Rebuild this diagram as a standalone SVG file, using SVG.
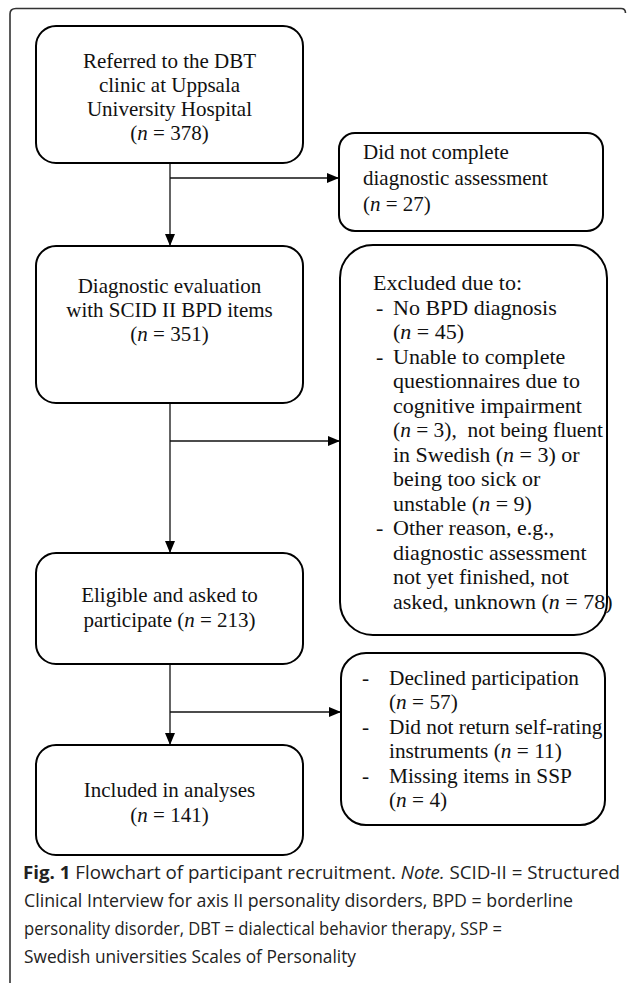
<svg xmlns="http://www.w3.org/2000/svg" width="627" height="983" viewBox="0 0 627 983">
<defs>
<style>
.box{fill:#fff;stroke:#000;stroke-width:2}
.t{font-family:"Liberation Serif","Times New Roman",serif;font-size:21px;fill:#111}
.t22{font-size:22px}
.t215{font-size:21.3px}
.c{text-anchor:middle}
.conn{fill:none;stroke:#111;stroke-width:1.3}
.cap{font-family:"Open Sans","Noto Sans",sans-serif;font-size:18.5px;fill:#222}
</style>
<marker id="ah" viewBox="0 0 12 10" refX="12" refY="5" markerWidth="12" markerHeight="10" markerUnits="userSpaceOnUse" orient="auto">
<path d="M0,0 L12,5 L0,10 Z" fill="#000"/>
</marker>
</defs>
<rect width="627" height="983" fill="#fff"/>
<path d="M10,983 L10,14 Q10,8.5 16,8.5 L621,8.5 Q625.5,8.5 625.5,13" fill="none" stroke="#333" stroke-width="1.6"/>

<g id="connectors">
<path class="conn" d="M170,163 L170,246" marker-end="url(#ah)"/>
<path class="conn" d="M170,178 L339,178" marker-end="url(#ah)"/>
<path class="conn" d="M170,403 L170,553" marker-end="url(#ah)"/>
<path class="conn" d="M170,441 L340,441" marker-end="url(#ah)"/>
<path class="conn" d="M170,664 L170,745" marker-end="url(#ah)"/>
<path class="conn" d="M170,712 L341,712" marker-end="url(#ah)"/>
</g>

<g id="referred">
<rect class="box" x="36" y="26" width="267" height="137" rx="20"/>
<text class="t c" x="169.5" y="68">Referred to the DBT</text>
<text class="t c" x="169.5" y="92">clinic at Uppsala</text>
<text class="t c" x="169.5" y="116">University Hospital</text>
<text class="t c" x="169.5" y="140">(<tspan font-style="italic">n</tspan> = 378)</text>
</g>

<g id="not-complete">
<rect class="box" x="339" y="133" width="264" height="98" rx="16"/>
<text class="t" x="363" y="159">Did not complete</text>
<text class="t" x="363" y="185">diagnostic assessment</text>
<text class="t" x="363" y="211">(<tspan font-style="italic">n</tspan> = 27)</text>
</g>

<g id="diagnostic">
<rect class="box" x="36" y="246" width="267" height="157" rx="20"/>
<text class="t c" x="169.5" y="293">Diagnostic evaluation</text>
<text class="t c" x="169.5" y="317">with SCID II BPD items</text>
<text class="t c" x="169.5" y="341">(<tspan font-style="italic">n</tspan> = 351)</text>
</g>

<g id="excluded">
<rect class="box" x="340" y="245" width="267" height="390" rx="33"/>
<text class="t t22" x="373" y="290">Excluded due to:</text>
<text class="t t22" x="376" y="314.5">-</text>
<text class="t t22" x="393" y="314.5">No BPD diagnosis</text>
<text class="t t22" x="393" y="339">(<tspan font-style="italic">n</tspan> = 45)</text>
<text class="t t22" x="376" y="363.5">-</text>
<text class="t t22" x="393" y="363.5">Unable to complete</text>
<text class="t t22" x="393" y="388">questionnaires due to</text>
<text class="t t22" x="393" y="412.5">cognitive impairment</text>
<text class="t t22" x="393" y="437" xml:space="preserve" textLength="210" lengthAdjust="spacingAndGlyphs">(<tspan font-style="italic">n</tspan> = 3),  not being fluent</text>
<text class="t t22" x="393" y="461.5">in Swedish (<tspan font-style="italic">n</tspan> = 3) or</text>
<text class="t t22" x="393" y="486">being too sick or</text>
<text class="t t22" x="393" y="510.5">unstable (<tspan font-style="italic">n</tspan> = 9)</text>
<text class="t t22" x="376" y="535">-</text>
<text class="t t22" x="393" y="535">Other reason, e.g.,</text>
<text class="t t22" x="393" y="559.5">diagnostic assessment</text>
<text class="t t22" x="393" y="584">not yet finished, not</text>
<text class="t t22" x="393" y="608.5">asked, unknown (<tspan font-style="italic">n</tspan> = 78)</text>
</g>

<g id="eligible">
<rect class="box" x="36" y="553" width="267" height="111" rx="20"/>
<text class="t c" x="169.5" y="602">Eligible and asked to</text>
<text class="t c" x="169.5" y="627">participate (<tspan font-style="italic">n</tspan> = 213)</text>
</g>

<g id="declined">
<rect class="box" x="341" y="653" width="264" height="172" rx="25"/>
<text class="t t215" x="362" y="685">-</text>
<text class="t t215" x="389" y="685">Declined participation</text>
<text class="t t215" x="389" y="709">(<tspan font-style="italic">n</tspan> = 57)</text>
<text class="t t215" x="362" y="734">-</text>
<text class="t t215" x="389" y="734">Did not return self-rating</text>
<text class="t t215" x="389" y="758">instruments (<tspan font-style="italic">n</tspan> = 11)</text>
<text class="t t215" x="362" y="783">-</text>
<text class="t t215" x="389" y="783">Missing items in SSP</text>
<text class="t t215" x="389" y="807">(<tspan font-style="italic">n</tspan> = 4)</text>
</g>

<g id="included">
<rect class="box" x="36" y="745" width="267" height="110" rx="20"/>
<text class="t c" x="169.5" y="797">Included in analyses</text>
<text class="t c" x="169.5" y="822">(<tspan font-style="italic">n</tspan> = 141)</text>
</g>

<g id="caption">
<text class="cap" x="23" y="879" textLength="597" lengthAdjust="spacingAndGlyphs"><tspan font-weight="bold">Fig. 1</tspan> Flowchart of participant recruitment. <tspan font-style="italic">Note.</tspan> SCID-II = Structured</text>
<text class="cap" x="24" y="907" textLength="549" lengthAdjust="spacingAndGlyphs">Clinical Interview for axis II personality disorders, BPD = borderline</text>
<text class="cap" x="24" y="935" textLength="478" lengthAdjust="spacingAndGlyphs">personality disorder, DBT = dialectical behavior therapy, SSP =</text>
<text class="cap" x="24" y="963" textLength="332" lengthAdjust="spacingAndGlyphs">Swedish universities Scales of Personality</text>
</g>
</svg>
